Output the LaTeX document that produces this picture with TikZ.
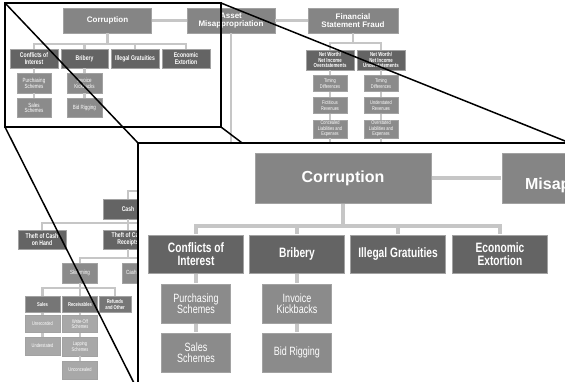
\documentclass[tikz,border=0pt]{standalone}
\usepackage{fontspec}
\setmainfont{Liberation Sans}
\newfontfamily\condfont{Liberation Sans}[FakeStretch=0.75]

\definecolor{boxTop}{HTML}{858585}
\definecolor{boxDark}{HTML}{646464}
\definecolor{boxDeep}{HTML}{767676}
\definecolor{boxMid}{HTML}{8B8B8B}
\definecolor{boxLight}{HTML}{A8A8A8}
\definecolor{linkGray}{HTML}{C6C6C6}
\definecolor{rimGray}{HTML}{A2A2A2}

\tikzset{every picture/.style={line width=0.75pt}}
\tikzset{
  conn/.style={draw=linkGray, line width=2.2pt},
  box/.style={draw=rimGray, line width=0.4pt, text=white, align=center, inner sep=0pt},
  topbox/.style={box, fill=boxTop, minimum width=88pt, minimum height=25pt, font=\bfseries\fontsize{8}{8}\selectfont},
  darkbox/.style={box, fill=boxDark, minimum width=47.5pt, minimum height=19pt, font=\condfont\bfseries\fontsize{6.8}{6.6}\selectfont},
  deepbox/.style={box, fill=boxDeep, minimum width=35pt, minimum height=16pt, font=\condfont\bfseries\fontsize{5.5}{5.6}\selectfont},
  midbox/.style={box, fill=boxMid, minimum width=34.5pt, minimum height=19.5pt, font=\condfont\fontsize{6}{5.6}\selectfont},
  netbox/.style={box, fill=boxDark, minimum width=48pt, minimum height=20pt, font=\condfont\bfseries\fontsize{5.8}{5.9}\selectfont},
  tinybox/.style={box, fill=boxMid, minimum width=34pt, minimum height=16pt, font=\condfont\fontsize{5.3}{5.4}\selectfont},
  lightbox/.style={box, fill=boxLight, minimum width=35pt, minimum height=17pt, font=\condfont\fontsize{5.3}{5.4}\selectfont},
  callout/.style={draw=black, line width=1.5pt},
}

% the whole chart, drawn once small and once enlarged
\newcommand{\fraudtree}{%
  % Top level
  \node[topbox] (corr) at (107.5,20.5) {Corruption};
  \node[topbox] (misap) at (231,20.5) {Asset\\Misappropriation};
  \node[topbox, minimum width=90pt] (fsf) at (353,20.5) {Financial\\Statement Fraud};
  \draw[conn] (corr) -- (misap);
  \draw[conn] (misap) -- (fsf);
  % Corruption branch
  \node[darkbox] (coi) at (34,58.5) {Conflicts of\\Interest};
  \node[darkbox] (brib) at (84.5,58.5) {Bribery};
  \node[darkbox] (grat) at (135,58.5) {Illegal Gratuities};
  \node[darkbox] (extort) at (186,58.5) {Economic\\Extortion};
  \draw[conn] (corr.south) -- ++(0,11) -| (coi.north);
  \draw[conn] (corr.south) -- ++(0,11) -| (brib.north);
  \draw[conn] (corr.south) -- ++(0,11) -| (grat.north);
  \draw[conn] (corr.south) -- ++(0,11) -| (extort.north);
  \node[midbox] (purch) at (34,83.25) {Purchasing\\Schemes};
  \node[midbox] (salesch) at (34,107.75) {Sales\\Schemes};
  \node[midbox] (kick) at (84.5,83.25) {Invoice\\Kickbacks};
  \node[midbox] (bid) at (84.5,107.75) {Bid Rigging};
  \draw[conn] (coi) -- (purch);
  \draw[conn] (purch) -- (salesch);
  \draw[conn] (brib) -- (kick);
  \draw[conn] (kick) -- (bid);
  % Financial statement branch
  \node[netbox] (over) at (330,60) {Net Worth/\\Net Income\\Overstatements};
  \node[netbox] (under) at (381,60) {Net Worth/\\Net Income\\Understatements};
  \draw[conn] (fsf.south) -- ++(0,10) -| (over.north);
  \draw[conn] (fsf.south) -- ++(0,10) -| (under.north);
  \node[tinybox] (timeO) at (330,83.5) {Timing\\Differences};
  \node[tinybox] (fict) at (330,105.5) {Fictitious\\Revenues};
  \node[tinybox, minimum height=18pt] (conc) at (330,129) {Concealed\\Liabilities and\\Expenses};
  \node[tinybox] (timeU) at (381,83.5) {Timing\\Differences};
  \node[tinybox] (undRev) at (381,105.5) {Understated\\Revenues};
  \node[tinybox, minimum height=18pt] (ovLiab) at (381,129) {Overstated\\Liabilities and\\Expenses};
  \draw[conn] (over) -- (timeO);
  \draw[conn] (timeO) -- (fict);
  \draw[conn] (fict) -- (conc);
  \draw[conn] (under) -- (timeU);
  \draw[conn] (timeU) -- (undRev);
  \draw[conn] (undRev) -- (ovLiab);
  \coordinate (concEnd) at (330,150);
  \coordinate (ovLiabEnd) at (381,150);
  \draw[conn] (conc) -- (concEnd);
  \draw[conn] (ovLiab) -- (ovLiabEnd);
  % Asset misappropriation branch
  \node[darkbox, minimum width=50pt, minimum height=20pt] (cash) at (128,209) {Cash};
  \draw[conn] (misap.south) -- ++(0,158) -| (cash.north);
  \node[darkbox, minimum width=48pt] (onHand) at (42,239.5) {Theft of Cash\\on Hand};
  \node[darkbox, minimum width=50pt] (receipts) at (128,239.5) {Theft of Cash\\Receipts};
  \coordinate (disburse) at (214,230);
  \draw[conn] (cash.south) -- ++(0,4) -| (onHand.north);
  \draw[conn] (cash.south) -- (receipts.north);
  \draw[conn] (cash.south) -- ++(0,4) -| (disburse);
  \node[midbox, minimum width=35pt, minimum height=20pt] (skim) at (80,273) {Skimming};
  \node[midbox, minimum width=35pt, minimum height=20pt] (larceny) at (140,273) {Cash Larceny};
  \draw[conn] (receipts.south) -- ++(0,9) -| (skim.north);
  \draw[conn] (receipts.south) -- ++(0,9) -| (larceny.north);
  \node[deepbox] (sales) at (42.5,304.5) {Sales};
  \node[deepbox] (recv) at (80,304.5) {Receivables};
  \node[deepbox, minimum width=32pt] (refund) at (115,304.5) {Refunds\\and Other};
  \draw[conn] (skim.south) -- ++(0,5) -| (sales.north);
  \draw[conn] (skim.south) -- ++(0,5) -| (recv.north);
  \draw[conn] (skim.south) -- ++(0,5) -| (refund.north);
  \node[lightbox] (unrec) at (42.5,324) {Unrecorded};
  \node[lightbox, minimum height=18pt] (underst) at (42.5,346) {Understated};
  \node[lightbox] (writeOff) at (80,324) {Write-Off\\Schemes};
  \node[lightbox, minimum height=19pt] (lapping) at (80,346.5) {Lapping\\Schemes};
  \node[lightbox, minimum height=18pt] (unconc) at (80,370) {Unconcealed};
  \draw[conn] (sales) -- (unrec);
  \draw[conn] (unrec) -- (underst);
  \draw[conn] (recv) -- (writeOff);
  \draw[conn] (writeOff) -- (lapping);
  \draw[conn] (lapping) -- (unconc);
}

\begin{document}
\begin{tikzpicture}[x=1pt,y=-1pt]
\useasboundingbox (0,0) rectangle (565,381);
\fill[white] (0,0) rectangle (565,381);

% small chart
\fraudtree

% selection and zoom corners
\coordinate (selNW) at (5,3);
\coordinate (selNE) at (221,3);
\coordinate (selSW) at (5,127);
\coordinate (selSE) at (221,127);
\coordinate (zoomNW) at (138,143);
\coordinate (zoomNE) at (570,143);
\coordinate (zoomSW) at (138,391);
\coordinate (zoomSE) at (570,391);

%Straight Lines
\draw[callout] (selNW) rectangle (selSE);
\draw[callout] (selNW) -- (zoomNW);
\draw[callout] (selNE) -- (zoomNE);
\draw[callout] (selSW) -- (zoomSW);
\draw[callout] (selSE) -- (zoomSE);

% enlarged view
\fill[white] (zoomNW) rectangle (zoomSE);
\begin{scope}
  \clip (zoomNW) rectangle (zoomSE);
  \begin{scope}[shift={(128,137)}, scale=2, transform shape, name prefix=big-,
      conn/.append style={line width=4.4pt}, box/.append style={line width=0.8pt}]
    \fraudtree
  \end{scope}
\end{scope}
\draw[callout] (zoomNW) rectangle (zoomSE);

\end{tikzpicture}
\end{document}
